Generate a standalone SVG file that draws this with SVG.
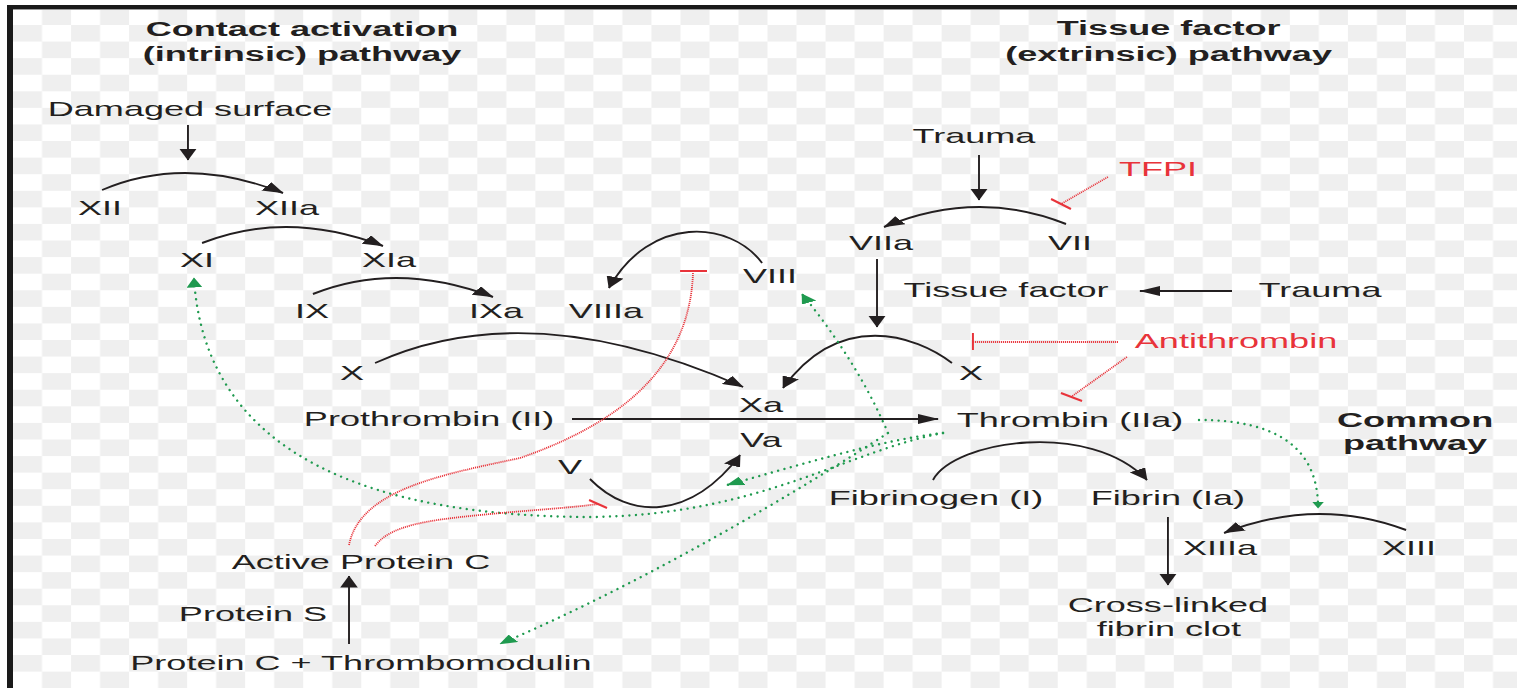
<svg xmlns="http://www.w3.org/2000/svg" width="1517" height="688" viewBox="0 0 1517 688">
<defs>
<pattern id="checker" patternUnits="userSpaceOnUse" x="13" y="8.4" width="58.04" height="33.16">
<rect width="58.04" height="33.16" fill="#ffffff"/>
<rect x="29.02" y="0" width="29.02" height="16.58" fill="#efefef"/>
<rect x="0" y="16.58" width="29.02" height="16.58" fill="#efefef"/>
</pattern>
<marker id="ah" markerUnits="userSpaceOnUse" viewBox="0 0 12 10" refX="11.5" refY="5" markerWidth="12" markerHeight="10" orient="auto"><path d="M0,0 L12,5 L0,10 z" fill="#231f20"/></marker>
<marker id="ag" markerUnits="userSpaceOnUse" viewBox="0 0 10 9" refX="9.5" refY="4.5" markerWidth="10" markerHeight="9" orient="auto"><path d="M0,0 L10,4.5 L0,9 z" fill="#1f9a4f"/></marker>
<marker id="ags" markerUnits="userSpaceOnUse" viewBox="0 0 7 7" refX="6.5" refY="3.5" markerWidth="7" markerHeight="7" orient="auto"><path d="M0,0 L7,3.5 L0,7 z" fill="#1f9a4f"/></marker>
</defs>
<style>
.t{font-family:"Liberation Sans",Arial,Helvetica,sans-serif;font-size:20.5px;fill:#231f20;text-anchor:middle}
.b{font-weight:bold}
.r{fill:#e8333a}
.k{fill:none;stroke:#231f20;stroke-width:1.9;vector-effect:non-scaling-stroke}
.g{fill:none;stroke:#1f9a4f;stroke-width:2.4;stroke-dasharray:0.01 6.5;stroke-linecap:round;vector-effect:non-scaling-stroke}
.rd{fill:none;stroke:#e8333a;stroke-width:1.8;stroke-dasharray:1.1 0.9;vector-effect:non-scaling-stroke}
.bar{fill:none;stroke:#e8333a;stroke-width:2;vector-effect:non-scaling-stroke}
</style>
<rect x="0" y="0" width="1517" height="688" fill="#ffffff"/>
<rect x="13" y="9" width="1504" height="679" fill="url(#checker)"/>
<rect x="7" y="5" width="1510" height="4" fill="#1a1a1a"/>
<rect x="13" y="9" width="1504" height="1" fill="#9a9a9a"/>
<rect x="7" y="5" width="6" height="683" fill="#1a1a1a"/>
<g transform="scale(1.76 1)">
<g id="connectors">
<path class="k" d="M106.8 125 L106.8 160" marker-end="url(#ah)"/>
<path class="k" d="M58 190 Q105.1 154.5 160.8 193" marker-end="url(#ah)"/>
<path class="k" d="M114.8 243 Q163.1 209.5 217.6 246" marker-end="url(#ah)"/>
<path class="k" d="M177.8 294 Q225.6 260.5 280.1 297" marker-end="url(#ah)"/>
<path class="k" d="M433 263 C414.8 220 369.3 215 346 288" marker-end="url(#ah)"/>
<path class="k" d="M556.25 155 L556.25 200" marker-end="url(#ah)"/>
<path class="k" d="M605.7 224 Q555.1 188.5 502.3 227" marker-end="url(#ah)"/>
<path class="k" d="M498.3 259 L498.3 327" marker-end="url(#ah)"/>
<path class="k" d="M700 291 L647.7 291" marker-end="url(#ah)"/>
<path class="k" d="M213.1 363 Q301.1 293 422.2 387" marker-end="url(#ah)"/>
<path class="k" d="M540.9 363 C519.9 335 477.3 310 444.9 388" marker-end="url(#ah)"/>
<path class="k" d="M325 419 L533 419" marker-end="url(#ah)"/>
<path class="k" d="M335.2 479 C358 520 392 520 420.5 455" marker-end="url(#ah)"/>
<path class="k" d="M530.1 480 C542.6 440 619.3 420 651.7 480" marker-end="url(#ah)"/>
<path class="k" d="M663.6 517 L663.6 585" marker-end="url(#ah)"/>
<path class="k" d="M798.9 530 Q748.3 496.5 695.5 533" marker-end="url(#ah)"/>
<path class="k" d="M198.3 644 L198.3 576" marker-end="url(#ah)"/>
<path class="g" d="M504.5 433 C494.3 390 477.3 340 455.7 294" marker-end="url(#ag)"/>
<path class="g" d="M504.5 433 C454.5 490 369.3 580 284.1 644" marker-end="url(#ag)"/>
<path class="g" d="M535.8 433 C500 440 454.5 465 413.1 485" marker-end="url(#ag)"/>
<path class="g" d="M535.8 433 C483 450 431.8 515 336.9 517 C215.9 517 116.5 460 110.2 278" marker-end="url(#ag)"/>
<path class="g" d="M681.25 420 C727.3 420 748.9 450 748.9 508" marker-end="url(#ags)"/>
<path class="rd" d="M198.3 545 C204.5 490 250 475 295.5 458 C340.9 430 392 380 393.75 272"/>
<path class="bar" d="M386.4 271 L401.7 271"/>
<path class="rd" d="M213.1 546 C221.6 525 244.3 520 272.7 515 C301.1 510 323.9 508 339.8 504"/>
<path class="bar" d="M334.7 500 L344.9 508"/>
<path class="rd" d="M629.5 177 L602.8 204"/>
<path class="bar" d="M597.2 199 L608.5 209"/>
<path class="rd" d="M635.2 342 L552.8 342"/>
<path class="bar" d="M552.8 333 L552.8 350"/>
<path class="rd" d="M640.3 357 L608.5 397"/>
<path class="bar" d="M602.8 393 L614.8 401"/>
</g>
<g id="title-intrinsic"><text class="t b" x="171.6" y="36">Contact activation</text><text class="t b" x="171.6" y="61">(intrinsic) pathway</text></g>
<g id="title-extrinsic"><text class="t b" x="664" y="35">Tissue factor</text><text class="t b" x="664" y="61">(extrinsic) pathway</text></g>
<g id="title-common"><text class="t b" x="804" y="427">Common</text><text class="t b" x="804" y="450">pathway</text></g>
<g id="n-damaged"><text class="t" x="108" y="116">Damaged surface</text></g>
<g id="n-xii"><text class="t" x="56.8" y="215">XII</text></g>
<g id="n-xiia"><text class="t" x="163.1" y="215">XIIa</text></g>
<g id="n-xi"><text class="t" x="111.9" y="267">XI</text></g>
<g id="n-xia"><text class="t" x="221" y="267">XIa</text></g>
<g id="n-ix"><text class="t" x="177.3" y="318">IX</text></g>
<g id="n-ixa"><text class="t" x="281.8" y="318">IXa</text></g>
<g id="n-viiia"><text class="t" x="344.3" y="318">VIIIa</text></g>
<g id="n-viii"><text class="t" x="437.5" y="283">VIII</text></g>
<g id="n-trauma1"><text class="t" x="553.4" y="143">Trauma</text></g>
<g id="n-tfpi"><text class="t r" x="658" y="176">TFPI</text></g>
<g id="n-viia"><text class="t" x="500.6" y="250">VIIa</text></g>
<g id="n-vii"><text class="t" x="608" y="250">VII</text></g>
<g id="n-tf"><text class="t" x="571.6" y="297">Tissue factor</text></g>
<g id="n-trauma2"><text class="t" x="750" y="297">Trauma</text></g>
<g id="n-antithrombin"><text class="t r" x="702.3" y="348">Antithrombin</text></g>
<g id="n-x1"><text class="t" x="200" y="380">X</text></g>
<g id="n-x2"><text class="t" x="551.7" y="380">X</text></g>
<g id="n-xa"><text class="t" x="432.4" y="412">Xa</text></g>
<g id="n-prothrombin"><text class="t" x="243.8" y="426">Prothrombin (II)</text></g>
<g id="n-thrombin"><text class="t" x="608" y="427">Thrombin (IIa)</text></g>
<g id="n-va"><text class="t" x="432.4" y="447">Va</text></g>
<g id="n-v"><text class="t" x="323.9" y="474">V</text></g>
<g id="n-fibrinogen"><text class="t" x="531.8" y="505">Fibrinogen (I)</text></g>
<g id="n-fibrin"><text class="t" x="663.6" y="505">Fibrin (Ia)</text></g>
<g id="n-xiiia"><text class="t" x="693.2" y="555">XIIIa</text></g>
<g id="n-xiii"><text class="t" x="800.6" y="555">XIII</text></g>
<g id="n-clot"><text class="t" x="663.6" y="612">Cross-linked</text><text class="t" x="664.2" y="636">fibrin clot</text></g>
<g id="n-apc"><text class="t" x="205.1" y="569">Active Protein C</text></g>
<g id="n-proteins"><text class="t" x="143.75" y="621">Protein S</text></g>
<g id="n-pctm"><text class="t" x="205.1" y="670">Protein C + Thrombomodulin</text></g>
</g>
</svg>
